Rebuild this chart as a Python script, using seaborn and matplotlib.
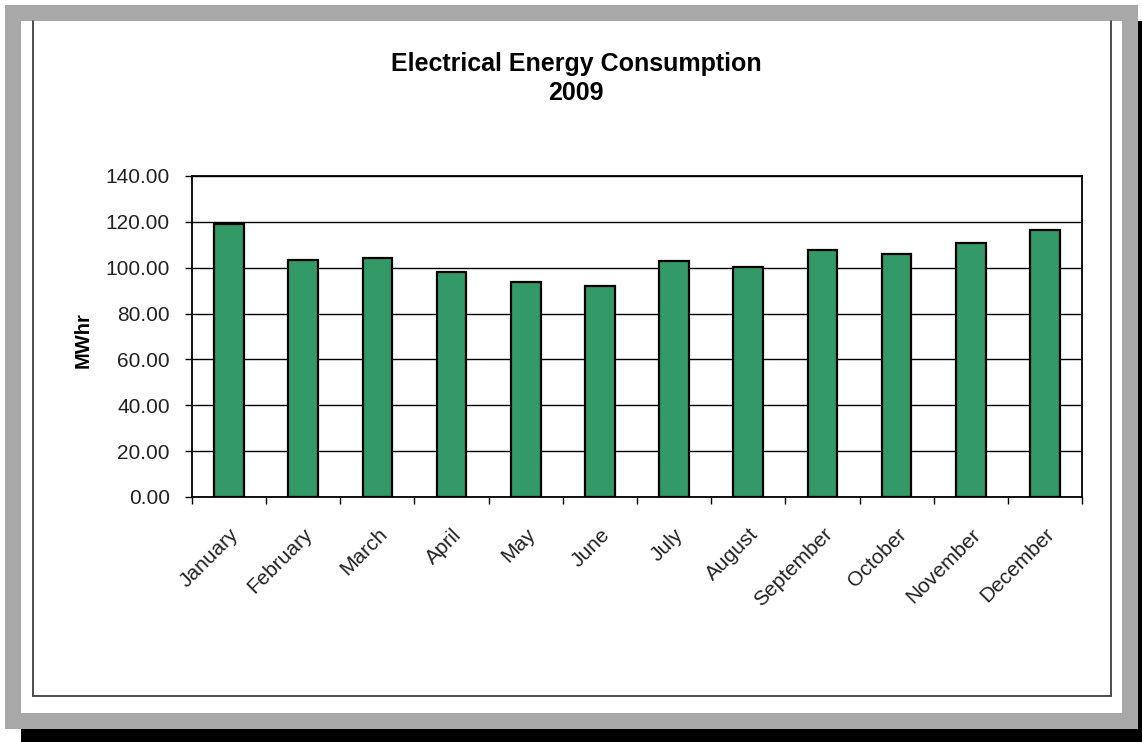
import numpy as np
import pandas as pd
import seaborn as sns
import matplotlib.pyplot as plt
from matplotlib.patches import Rectangle
from matplotlib.lines import Line2D

# Data
months = ['January', 'February', 'March', 'April', 'May', 'June',
          'July', 'August', 'September', 'October', 'November', 'December']
mwhr = [119.2, 103.5, 104.1, 98.0, 93.6, 91.9,
        102.9, 100.3, 107.6, 105.8, 110.9, 116.4]
y_ticks = [0, 20, 40, 60, 80, 100, 120, 140]

df = pd.DataFrame({'month': months, 'mwhr': mwhr})

sns.set_style('white')
plt.rcParams['font.family'] = ['Liberation Sans', 'DejaVu Sans']

W, H = 1142, 742
fig = plt.figure(figsize=(W / 100, H / 100), dpi=100)
fig.patch.set_facecolor('white')


def px_rect(x0, y0, x1, y1, **kw):
    # rectangle given in pixel coordinates (origin top-left)
    return Rectangle((x0 / W, 1 - y1 / H), (x1 - x0) / W, (y1 - y0) / H,
                     transform=fig.transFigure, zorder=-5, **kw)


# frame: shadow, grey band, white chart area
fig.patches.append(px_rect(21, 21, 1150, 750, facecolor='black', edgecolor='none'))
fig.patches.append(px_rect(5, 5, 1138, 729, facecolor='#a8a8a8', edgecolor='none'))
fig.patches.append(px_rect(21, 21, 1122, 713, facecolor='white', edgecolor='none'))
for xs, ys in [([33, 33], [21, 696]), ([33, 1111], [696, 696]), ([1111, 1111], [21, 696])]:
    fig.lines.append(Line2D([x / W for x in xs], [1 - y / H for y in ys],
                            transform=fig.transFigure, color='#404040', lw=1.3, zorder=-4))

ax = fig.add_axes([192 / W, 1 - 497 / H, 890 / W, 321 / H])
sns.barplot(data=df, x='month', y='mwhr', order=months, color='#339966',
            saturation=1, width=0.4, edgecolor='black', linewidth=1.6, ax=ax, zorder=3)

ax.set_xlim(-0.5, 11.5)
ax.set_ylim(0, 140)
ax.set_yticks(y_ticks)
ax.set_yticklabels([f'{v:.2f}' for v in y_ticks], fontsize=15, color='#222222')
ax.yaxis.grid(True, color='black', lw=1)
ax.set_axisbelow(True)

# category ticks sit between bars, labels at bar centres
ax.set_xticks(np.arange(-0.5, 12, 1))
ax.set_xticklabels([])
ax.set_xticks(np.arange(12), minor=True)
ax.set_xticklabels(months, minor=True, rotation=45, ha='right',
                   rotation_mode='anchor', fontsize=15, color='#222222')
ax.tick_params(axis='x', which='major', direction='out', length=5, width=1,
               bottom=True, color='black')
ax.tick_params(axis='x', which='minor', length=0, pad=20)
ax.tick_params(axis='y', direction='out', length=5, width=1, left=True, pad=11,
               color='black')

for s in ax.spines.values():
    s.set_color('black')
    s.set_linewidth(1.3)

ax.set_xlabel('')
ax.set_ylabel('MWhr', fontsize=14.5, fontweight='bold', color='black')
ax.yaxis.set_label_coords(-0.112, 0.49)

fig.text(576 / W, 1 - 64 / H, 'Electrical Energy Consumption', ha='center', va='center',
         fontsize=18, fontweight='bold', color='black')
fig.text(576 / W, 1 - 93 / H, '2009', ha='center', va='center',
         fontsize=18, fontweight='bold', color='black')

fig.savefig('out.png', dpi=100)
